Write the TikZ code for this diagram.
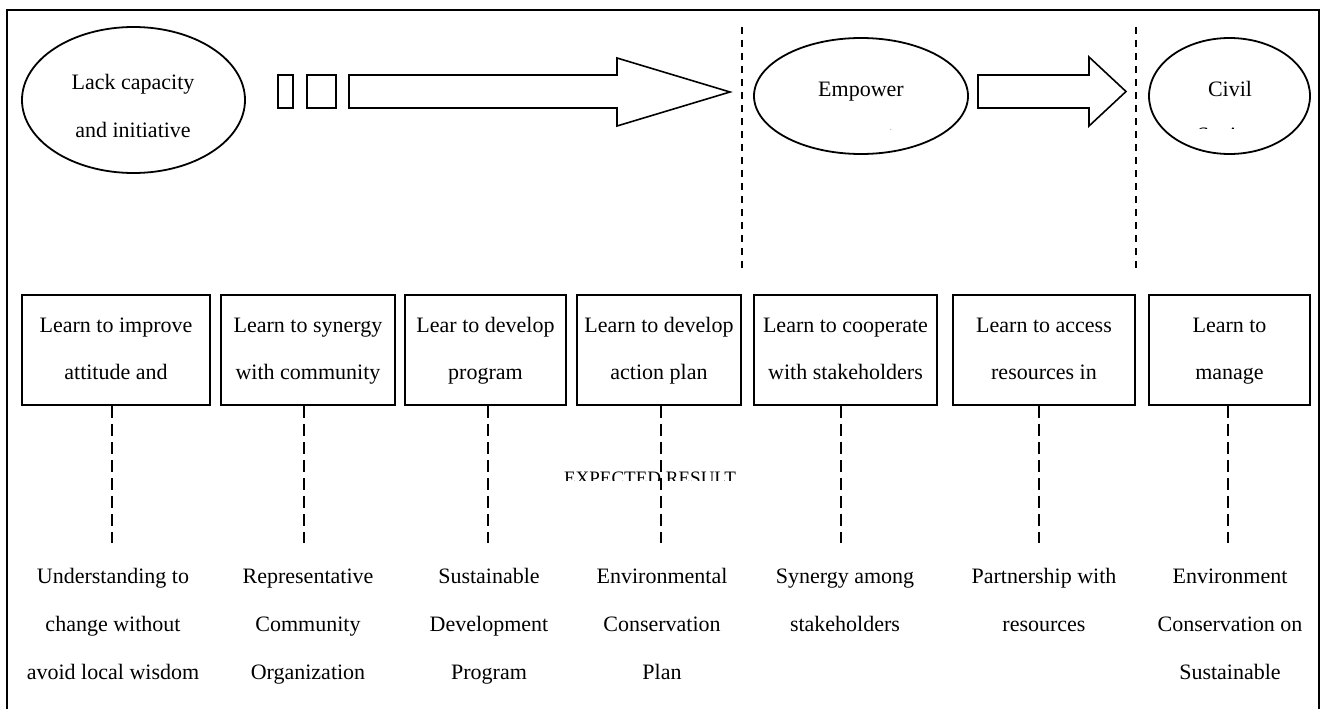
\documentclass[tikz,border=0pt]{standalone}
\usepackage{fontspec}
\setmainfont{Liberation Serif}
\usetikzlibrary{shapes.geometric}
\begin{document}
\begin{tikzpicture}[x=1pt,y=-1pt,
  every node/.style={font=\fontsize{22}{26}\selectfont},
  txt/.style={anchor=base, inner sep=0pt, outer sep=0pt},
  ell/.style={draw, ellipse, line width=1.8pt, inner sep=0pt},
  box/.style={draw, rectangle, line width=1.8pt, inner sep=0pt},
  blk/.style={draw, line width=1.6pt, line join=miter},
  sepline/.style={line width=1.2pt, dash pattern=on 7pt off 6pt},
  conn/.style={line width=2pt, dash pattern=on 12pt off 6pt}]
\useasboundingbox (0,0) rectangle (1325,709);
% frame
\draw[line width=2pt] (7,10) rectangle (1319,725);

% top ellipses
\node[ell, minimum width=223, minimum height=146] (e1) at (133.5,100) {};
\node[txt] (e1a) at (133,89) {Lack capacity};
\node[txt] (e1b) at (133,137) {and initiative};

\node[ell, minimum width=214, minimum height=116] (e2) at (861,96) {};
\node[txt] (e2a) at (861,96) {Empower};

\node[ell, minimum width=161, minimum height=116] (e3) at (1229.5,96) {};
\node[txt] (e3a) at (1230,96) {Civil};

% clipped second lines
\begin{scope}
  \clip (840,126) rectangle (940,129.5);
  \node[txt] (e2b) at (872,142.5) {ment};
\end{scope}
\begin{scope}
  \clip (1160,125) rectangle (1300,128);
  \node[txt] (e3b) at (1230,142) {Society};
\end{scope}

% small rectangles and block arrows
\draw[blk] (278,75) rectangle (293,108);
\draw[blk] (307,75) rectangle (336,108);
\draw[blk] (349,75) -- (617,75) -- (617,58) -- (730,92) -- (617,126) -- (617,108) -- (349,108) -- cycle;
\draw[blk] (978,75) -- (1089,75) -- (1089,57) -- (1126,91.5) -- (1089,126) -- (1089,108) -- (978,108) -- cycle;

% separators
\coordinate (s1a) at (742,27);
\coordinate (s1b) at (742,271);
\coordinate (s2a) at (1136,27);
\coordinate (s2b) at (1136,271);
\draw[sepline] (s1a) -- (s1b);
\draw[sepline] (s2a) -- (s2b);

% boxes
\node[box, minimum width=188, minimum height=110] (b1) at (116,350) {};
\node[box, minimum width=174, minimum height=110] (b2) at (308,350) {};
\node[box, minimum width=161, minimum height=110] (b3) at (485.5,350) {};
\node[box, minimum width=164, minimum height=110] (b4) at (659,350) {};
\node[box, minimum width=183, minimum height=110] (b5) at (845.5,350) {};
\node[box, minimum width=182, minimum height=110] (b6) at (1044,350) {};
\node[box, minimum width=161, minimum height=110] (b7) at (1229.5,350) {};

\node[txt] (b1a) at (116,332) {Learn to improve};
\node[txt] (b1b) at (116,379) {attitude and};
\node[txt] (b2a) at (308,332) {Learn to synergy};
\node[txt] (b2b) at (308,379) {with community};
\node[txt] (b3a) at (485.5,332) {Lear to develop};
\node[txt] (b3b) at (485.5,379) {program};
\node[txt] (b4a) at (659,332) {Learn to develop};
\node[txt] (b4b) at (659,379) {action plan};
\node[txt] (b5a) at (845.5,332) {Learn to cooperate};
\node[txt] (b5b) at (845.5,379) {with stakeholders};
\node[txt] (b6a) at (1044,332) {Learn to access};
\node[txt] (b6b) at (1044,379) {resources in};
\node[txt] (b7a) at (1229.5,332) {Learn to};
\node[txt] (b7b) at (1229.5,379) {manage};

% clipped EXPECTED RESULT
\begin{scope}
  \clip (540,465) rectangle (760,480);
  \node[txt, font=\fontsize{19}{22}\selectfont] (er) at (650,484.5) {EXPECTED RESULT};
\end{scope}

% dashed connectors
\coordinate (c1) at (112,543);
\coordinate (c2) at (304,543);
\coordinate (c3) at (488,543);
\coordinate (c4) at (661,543);
\coordinate (c5) at (841,543);
\coordinate (c6) at (1039,543);
\coordinate (c7) at (1228,543);
\foreach \i in {1,...,7} {
  \draw[conn] (b\i.south -| c\i) -- (c\i);
}

% expected results
\node[txt] (r1a) at (113,583) {Understanding to};
\node[txt] (r1b) at (113,631) {change without};
\node[txt] (r1c) at (113,679) {avoid local wisdom};
\node[txt] (r2a) at (308,583) {Representative};
\node[txt] (r2b) at (308,631) {Community};
\node[txt] (r2c) at (308,679) {Organization};
\node[txt] (r3a) at (489,583) {Sustainable};
\node[txt] (r3b) at (489,631) {Development};
\node[txt] (r3c) at (489,679) {Program};
\node[txt] (r4a) at (662,583) {Environmental};
\node[txt] (r4b) at (662,631) {Conservation};
\node[txt] (r4c) at (662,679) {Plan};
\node[txt] (r5a) at (845,583) {Synergy among};
\node[txt] (r5b) at (845,631) {stakeholders};
\node[txt] (r6a) at (1044,583) {Partnership with};
\node[txt] (r6b) at (1044,631) {resources};
\node[txt] (r7a) at (1230,583) {Environment};
\node[txt] (r7b) at (1230,631) {Conservation on};
\node[txt] (r7c) at (1230,679) {Sustainable};
\end{tikzpicture}
\end{document}
